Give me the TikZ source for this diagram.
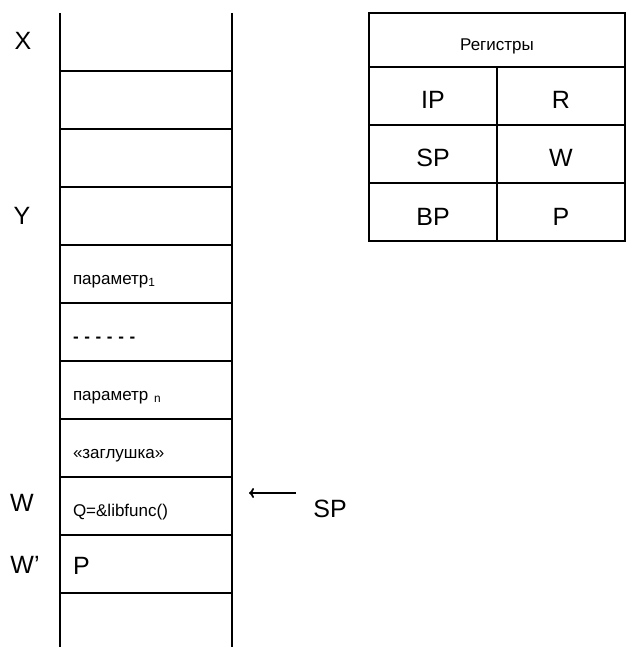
\documentclass[tikz,border=0pt]{standalone}
\usepackage{fontspec}
\setmainfont{Liberation Sans}
\usetikzlibrary{arrows.meta,positioning}

\begin{document}
\begin{tikzpicture}[
    x=1pt, y=-1pt,
    every node/.style={font=\fontsize{17}{20}\selectfont},
    cell/.style={minimum height=58pt, text width=146pt, text height=39pt, text depth=19pt, inner xsep=13pt, inner ysep=0pt, outer sep=0pt, align=left},
    big/.style={font=\fontsize{25}{30}\selectfont, inner sep=0pt},
    reg/.style={draw, line width=1.8pt, minimum width=128pt, minimum height=58pt, text height=42pt, text depth=16pt, inner sep=0pt, outer sep=0pt, font=\fontsize{25}{30}\selectfont},
    wall/.style={line width=1.8pt},
    arr/.style={-{To[length=5pt,width=10pt]}, line width=1.8pt},
  ]
  \useasboundingbox (0,0) rectangle (626,647);

  %% stack cells, top to bottom
  \node[cell]                      (cell1)  at (146,42) {};
  \node[cell, below=0pt of cell1]  (cell2)  {};
  \node[cell, below=0pt of cell2]  (cell3)  {};
  \node[cell, below=0pt of cell3]  (cell4)  {};
  \node[cell, below=0pt of cell4]  (cell5)  {параметр\textsubscript{1}};
  \node[cell, below=0pt of cell5]  (cell6)  {\textbf{- - - - - -}};
  \node[cell, below=0pt of cell6]  (cell7)  {параметр \textsubscript{n}};
  \node[cell, below=0pt of cell7]  (cell8)  {«заглушка»};
  \node[cell, below=0pt of cell8]  (cell9)  {Q=\&libfunc()};
  \node[cell, below=0pt of cell9, font=\fontsize{25}{30}\selectfont] (cell10) {P};
  \node[cell, below=0pt of cell10] (cell11) {};

  %% stack walls and separators
  \draw[wall] (cell1.north west) -- (cell11.south west);
  \draw[wall] (cell1.north east) -- (cell11.south east);
  \foreach \n in {1,...,10}
    \draw[wall] (cell\n.south west) -- (cell\n.south east);

  %% address marks on the left
  \node[big] (markx)  at (23,41)  {X};
  \node[big] (marky)  at (22,216) {Y};
  \node[big] (markw)  at (22,503) {W};
  \node[big] (markw2) at (25,565) {W'};

  %% stack pointer
  \node[big] (spmark) at (330,509) {SP};
  \coordinate (sptail) at (296,493);
  \coordinate (sptip)  at (249,493);
  \draw[arr] (sptail) -- (sptip);

  %% register table
  \node[reg, minimum width=256pt, minimum height=54pt, text height=38pt, text depth=16pt, font=\fontsize{17}{20}\selectfont] (reghead) at (497,40) {Регистры};
  \node[reg, anchor=north west] (ip) at (reghead.south west) {IP};
  \node[reg, right=0pt of ip] (r)  {R};
  \node[reg, below=0pt of ip] (sp) {SP};
  \node[reg, right=0pt of sp] (w)  {W};
  \node[reg, below=0pt of sp] (bp) {BP};
  \node[reg, right=0pt of bp] (p)  {P};
\end{tikzpicture}
\end{document}
